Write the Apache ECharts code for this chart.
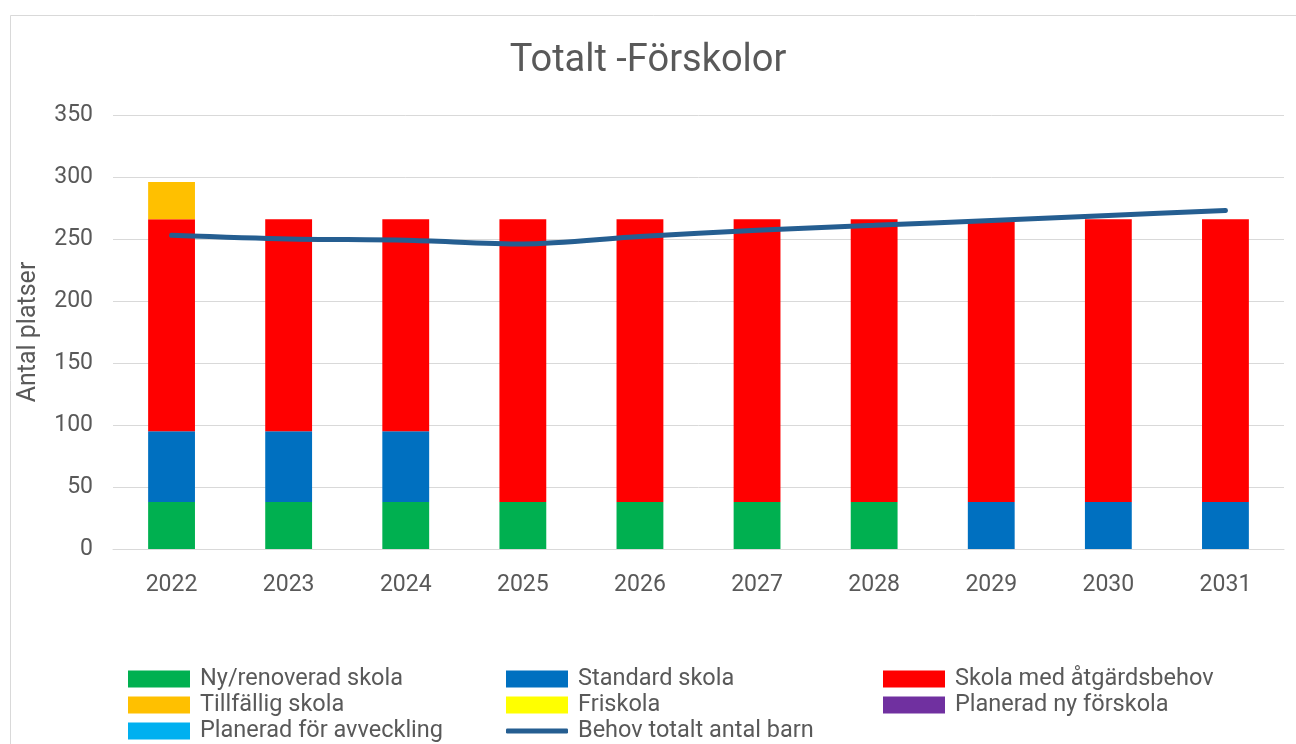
<!DOCTYPE html>
<html>
<head>
<meta charset="utf-8">
<script src="https://cdn.jsdelivr.net/npm/echarts@6/dist/echarts.min.js"></script>
<style>
html, body { margin: 0; padding: 0; background: #fff; }
#chart { width: 1296px; height: 744px; }
</style>
</head>
<body>
<div id="chart"></div>
<script>
var years = ['2022', '2023', '2024', '2025', '2026', '2027', '2028', '2029', '2030', '2031']
var nyRenoverad = [38, 38, 38, 38, 38, 38, 38, 0, 0, 0]
var standardSkola = [57, 57, 57, 0, 0, 0, 0, 38, 38, 38]
var atgardsbehov = [171, 171, 171, 228, 228, 228, 228, 228, 228, 228]
var tillfallig = [30, 0, 0, 0, 0, 0, 0, 0, 0, 0]
var friskola = [0, 0, 0, 0, 0, 0, 0, 0, 0, 0]
var planeradNy = [0, 0, 0, 0, 0, 0, 0, 0, 0, 0]
var planeradAvveckling = [0, 0, 0, 0, 0, 0, 0, 0, 0, 0]
var behovBarn = [253, 250, 249, 246, 252, 257, 261, 265, 269, 273]

var font = 'Roboto'
var textColor = '#595959'

function barSeries(name, data, color) {
	return {
		name: name,
		type: 'bar',
		stack: 'platser',
		barWidth: '40%',
		data: data,
		itemStyle: { color: color }
	}
}

// one legend per entry so the three columns line up like the original
var legendCols = [128, 506, 883]
function makeLegend(name, col, row, iconH) {
	return {
		left: legendCols[col],
		top: 667 + row * 26,
		padding: 0,
		itemWidth: 62,
		itemHeight: iconH,
		icon: iconH < 10 ? 'roundRect' : 'rect',
		data: [name],
		textStyle: { fontFamily: font, fontSize: 23.5, color: textColor, padding: [0, 0, 0, 5] }
	}
}

var myEchart = echarts.init(document.getElementById('chart'))
var option = {
	animation: false,
	backgroundColor: '#fff',
	title: {
		text: 'Totalt -Förskolor',
		left: 'center',
		top: 37,
		textStyle: { fontFamily: font, fontSize: 38, fontWeight: 'normal', color: textColor }
	},
	graphic: [{
		type: 'rect',
		shape: { x: 10.5, y: 15.5, width: 1300, height: 760 },
		style: { fill: 'none', stroke: '#d9d9d9', lineWidth: 1 },
		silent: true
	}],
	grid: {
		left: 113,
		right: 12,
		top: 115,
		bottom: 195
	},
	legend: [
		makeLegend('Ny/renoverad skola', 0, 0, 17),
		makeLegend('Standard skola', 1, 0, 17),
		makeLegend('Skola med åtgärdsbehov', 2, 0, 17),
		makeLegend('Tillfällig skola', 0, 1, 17),
		makeLegend('Friskola', 1, 1, 17),
		makeLegend('Planerad ny förskola', 2, 1, 17),
		makeLegend('Planerad för avveckling', 0, 2, 17),
		makeLegend('Behov totalt antal barn', 1, 2, 5)
	],
	xAxis: {
		type: 'category',
		data: years,
		axisLine: { lineStyle: { color: '#d9d9d9', width: 1 } },
		axisTick: { show: false },
		axisLabel: { fontFamily: font, fontSize: 23, color: textColor, margin: 25 }
	},
	yAxis: {
		type: 'value',
		min: 0,
		max: 350,
		interval: 50,
		name: 'Antal platser',
		nameLocation: 'middle',
		nameGap: 72,
		nameTextStyle: { fontFamily: font, fontSize: 25, color: textColor },
		axisLine: { show: false },
		axisTick: { show: false },
		axisLabel: { fontFamily: font, fontSize: 23, color: textColor, margin: 20, padding: [3, 0, 0, 0] },
		splitLine: { lineStyle: { color: '#d9d9d9', width: 1 } }
	},
	series: [
		barSeries('Ny/renoverad skola', nyRenoverad, '#00B050'),
		barSeries('Standard skola', standardSkola, '#0070C0'),
		barSeries('Skola med åtgärdsbehov', atgardsbehov, '#FF0000'),
		barSeries('Tillfällig skola', tillfallig, '#FFC000'),
		barSeries('Friskola', friskola, '#FFFF00'),
		barSeries('Planerad ny förskola', planeradNy, '#7030A0'),
		barSeries('Planerad för avveckling', planeradAvveckling, '#00B0F0'),
		{
			name: 'Behov totalt antal barn',
			type: 'line',
			data: behovBarn,
			smooth: 0.3,
			symbol: 'none',
			lineStyle: { color: '#255E91', width: 5, cap: 'round' },
			itemStyle: { color: '#255E91' },
			z: 5
		}
	]
}
myEchart.setOption(option)
</script>
</body>
</html>
